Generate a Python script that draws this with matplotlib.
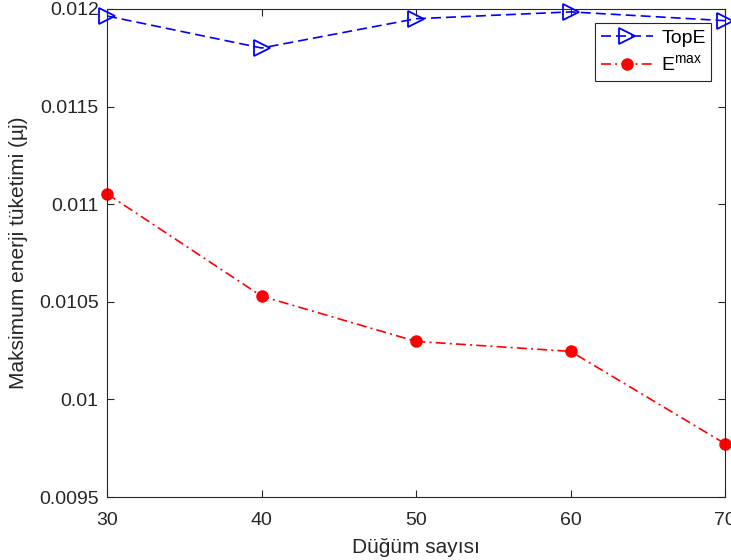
import matplotlib
matplotlib.use('Agg')
import matplotlib.pyplot as plt

# 데이터
NODES = [30, 40, 50, 60, 70]
TOPE = [0.011964, 0.011800, 0.011950, 0.011985, 0.011940]
EMAX = [0.011053, 0.010529, 0.010297, 0.010246, 0.009773]
Y_TICKS = [0.0095, 0.01, 0.0105, 0.011, 0.0115, 0.012]
Y_TICK_LABELS = ['0.0095', '0.01', '0.0105', '0.011', '0.0115', '0.012']

plt.rcParams['font.family'] = ['Liberation Sans', 'DejaVu Sans']
plt.rcParams['mathtext.fontset'] = 'custom'
plt.rcParams['mathtext.rm'] = 'Liberation Sans'
plt.rcParams['font.size'] = 14

fig = plt.figure(figsize=(7.31, 5.6), dpi=100)
ax = fig.add_axes([0.1464, 0.1125, 0.8455, 0.8715])

ax.plot(NODES, TOPE, color='#0000ff', linestyle=(0, (6, 3)), linewidth=1.2,
        marker='>', markersize=11, markerfacecolor='none', markeredgewidth=1.3,
        label='TopE', clip_on=False)
ax.plot(NODES, EMAX, color='#ff0000', linestyle=(0, (6, 2.5, 1.2, 2.5)), linewidth=1.2,
        marker='o', markersize=8, markerfacecolor='#ff0000', markeredgecolor='#ff0000',
        label=r'E$^{\mathrm{max}}$', clip_on=False)

ax.set_xlim(30, 70)
ax.set_ylim(0.0095, 0.012)
ax.set_xticks(NODES)
ax.set_yticks(Y_TICKS)
ax.set_yticklabels(Y_TICK_LABELS)

edge = '#262626'
for sp in ax.spines.values():
    sp.set_color(edge)
    sp.set_linewidth(0.8)
ax.tick_params(direction='in', top=True, right=True, length=5, width=0.8,
               colors=edge, labelcolor='#262626', labelsize=14)
ax.tick_params(axis='x', pad=11)
ax.tick_params(axis='y', pad=6)

ax.set_xlabel('Düğüm sayısı', fontsize=15, color='#262626', labelpad=6)
ax.set_ylabel('Maksimum enerji tüketimi (µj)', fontsize=15, color='#262626', labelpad=8)

leg = ax.legend(loc='upper right', bbox_to_anchor=(0.978, 0.971), fontsize=14,
                frameon=True, fancybox=False, edgecolor='#262626', framealpha=1,
                handlelength=2.7, borderpad=0.3, labelspacing=0.4, handletextpad=0.4,
                borderaxespad=0)
leg.get_frame().set_linewidth(0.8)

plt.savefig('out.png', dpi=100)
plt.close()
